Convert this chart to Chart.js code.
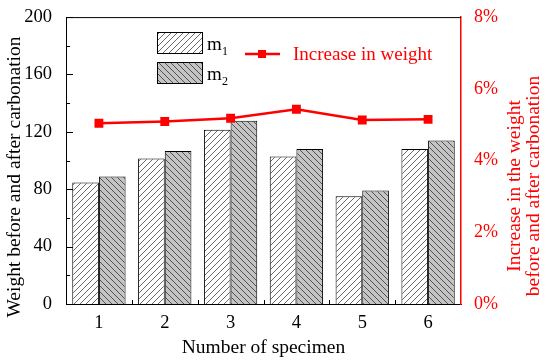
<!DOCTYPE html>
<html>
<head>
<meta charset="utf-8">
<script src="https://cdn.jsdelivr.net/npm/chart.js@4"></script>
<style>
  body { margin: 0; background: #fff; }
  #wrap { width: 550px; height: 364px; }
</style>
</head>
<body>
<div id="wrap"><canvas id="chart" width="550" height="364"></canvas></div>
<script>
const specimens = ["1", "2", "3", "4", "5", "6"];
const m1 = [84.7, 101.4, 121.5, 102.8, 75.2, 108.1];
const m2 = [88.9, 106.7, 127.8, 108.1, 79.2, 113.9];
const increase = [5.04, 5.09, 5.18, 5.43, 5.13, 5.15];

const serif = "'Liberation Serif', 'DejaVu Serif', serif";

// hatch patterns for the bars
function hatch(bg, line, forward) {
	const s = 6;
	const c = document.createElement("canvas");
	c.width = s;
	c.height = s;
	const g = c.getContext("2d");
	g.fillStyle = bg;
	g.fillRect(0, 0, s, s);
	g.strokeStyle = line;
	g.lineWidth = 0.8;
	g.beginPath();
	if (forward) {
		g.moveTo(0, s); g.lineTo(s, 0);
		g.moveTo(-s, s); g.lineTo(s, -s);
		g.moveTo(0, 2 * s); g.lineTo(2 * s, 0);
	} else {
		g.moveTo(0, 0); g.lineTo(s, s);
		g.moveTo(-s, 0); g.lineTo(s, 2 * s);
		g.moveTo(0, -s); g.lineTo(2 * s, s);
	}
	g.stroke();
	return g.createPattern(c, "repeat");
}

const pat1 = hatch("#ffffff", "#444444", true);
const pat2 = hatch("#c4c4c4", "#333333", false);

// ticks, frame, legend and the y titles
const extras = {
	id: "extras",
	afterDraw(chart) {
		const ctx = chart.ctx;
		const a = chart.chartArea;
		const y = chart.scales.y;
		const x = chart.scales.x;
		ctx.save();
		ctx.strokeStyle = "#000";
		ctx.lineWidth = 1;
		ctx.beginPath();
		for (let v = 0; v <= 200; v += 20) {
			const py = Math.round(y.getPixelForValue(v)) + 0.5;
			ctx.moveTo(a.left, py);
			ctx.lineTo(a.left + (v % 40 === 0 ? 7 : 4), py);
		}
		for (let i = 1; i < specimens.length; i++) {
			const px = Math.round((x.getPixelForValue(i - 1) + x.getPixelForValue(i)) / 2) + 0.5;
			ctx.moveTo(px, a.bottom);
			ctx.lineTo(px, a.bottom - 4);
		}
		// top frame
		ctx.moveTo(a.left, a.top + 0.5);
		ctx.lineTo(a.right, a.top + 0.5);
		ctx.stroke();

		// legend boxes
		ctx.fillStyle = pat1;
		ctx.fillRect(157, 32, 45, 21);
		ctx.strokeRect(157.5, 32.5, 45, 21);
		ctx.fillStyle = pat2;
		ctx.fillRect(157, 62, 45, 21);
		ctx.strokeRect(157.5, 62.5, 45, 21);
		ctx.fillStyle = "#000";
		ctx.textBaseline = "alphabetic";
		ctx.textAlign = "left";
		ctx.font = "19px " + serif;
		ctx.fillText("m", 207, 50);
		ctx.fillText("m", 207, 80);
		ctx.font = "12px " + serif;
		ctx.fillText("1", 222, 55);
		ctx.fillText("2", 222, 85);

		// line legend
		ctx.strokeStyle = "#ff0000";
		ctx.lineWidth = 2.5;
		ctx.beginPath();
		ctx.moveTo(245, 54);
		ctx.lineTo(280, 54);
		ctx.stroke();
		ctx.fillStyle = "#ff0000";
		ctx.fillRect(258, 50, 8, 8);
		ctx.font = "19px " + serif;
		ctx.fillText("Increase in weight", 293, 60);

		// y titles
		ctx.font = "19.5px " + serif;
		ctx.textAlign = "center";
		ctx.textBaseline = "middle";
		ctx.save();
		ctx.translate(15, 177);
		ctx.rotate(-Math.PI / 2);
		ctx.fillStyle = "#000";
		ctx.fillText("Weight before and after carbonation", 0, 0);
		ctx.restore();
		ctx.save();
		ctx.translate(515, 186);
		ctx.rotate(-Math.PI / 2);
		ctx.fillStyle = "#ff0000";
		ctx.fillText("Increase in the weight", 0, 0);
		ctx.fillText("before and after carbonation", 0, 19);
		ctx.restore();
		ctx.restore();
	}
};

new Chart(document.getElementById("chart"), {
	data: {
		labels: specimens,
		datasets: [
			{
				type: "line",
				label: "Increase in weight",
				data: increase,
				yAxisID: "y2",
				borderColor: "#ff0000",
				backgroundColor: "#ff0000",
				borderWidth: 2.5,
				pointStyle: "rect",
				pointRadius: 4.5,
				tension: 0,
				order: 0
			},
			{
				type: "bar",
				label: "m1",
				data: m1,
				yAxisID: "y",
				backgroundColor: pat1,
				borderColor: "#000",
				borderWidth: 1,
				barPercentage: 1,
				categoryPercentage: 0.81,
				order: 1
			},
			{
				type: "bar",
				label: "m2",
				data: m2,
				yAxisID: "y",
				backgroundColor: pat2,
				borderColor: "#000",
				borderWidth: 1,
				barPercentage: 1,
				categoryPercentage: 0.81,
				order: 1
			}
		]
	},
	options: {
		responsive: false,
		animation: false,
		layout: { padding: { top: 16, left: 0, right: 0, bottom: 0 } },
		plugins: {
			legend: { display: false },
			tooltip: { enabled: false }
		},
		scales: {
			x: {
				grid: { display: false },
				border: { color: "#000", width: 1 },
				ticks: { color: "#000", font: { family: serif, size: 18.5 }, padding: 0 },
				title: {
					display: true,
					text: "Number of specimen",
					color: "#000",
					font: { family: serif, size: 19.5 },
					padding: { top: 0 }
				},
				afterFit(s) { s.height = 60; }
			},
			y: {
				position: "left",
				min: 0,
				max: 200,
				grid: { display: false },
				border: { color: "#000", width: 1 },
				ticks: { stepSize: 40, color: "#000", font: { family: serif, size: 18.5 }, padding: 6 },
				afterFit(s) { s.width = 66; }
			},
			y2: {
				position: "right",
				min: 0,
				max: 8,
				grid: { display: false },
				border: { color: "#ff0000", width: 1.5 },
				ticks: {
					stepSize: 2,
					color: "#ff0000",
					font: { family: serif, size: 18 },
					padding: 5,
					callback: v => v + "%"
				},
				afterFit(s) { s.width = 89; }
			}
		}
	},
	plugins: [extras]
});
</script>
</body>
</html>
